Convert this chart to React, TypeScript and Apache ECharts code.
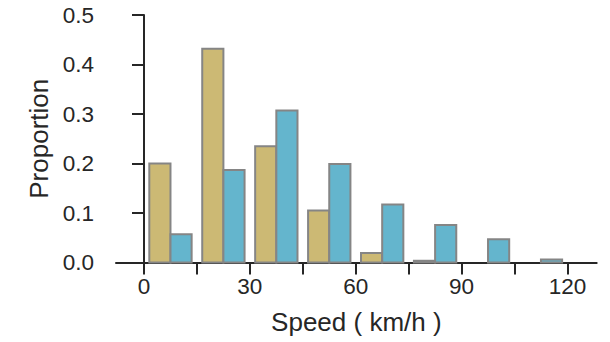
import React, { useEffect, useRef } from "react";
import * as echarts from "echarts";

const binEdges = [0, 15, 30, 45, 60, 75, 90, 105, 120];
const goldValues = [0.2, 0.432, 0.235, 0.105, 0.019, 0.0035, 0, 0];
const blueValues = [0.057, 0.187, 0.307, 0.199, 0.117, 0.076, 0.047, 0.006];
const xTickValues = [0, 15, 30, 45, 60, 75, 90, 105, 120];
const xLabelValues = [0, 30, 60, 90, 120];
const xAxisTitle = "Speed ( km/h )";
const yAxisTitle = "Proportion";

const SHRINK = 0.8;
const GOLD = "#CCB974";
const BLUE = "#64B5CD";
const EDGE = "#858585";
const INK = "#262626";
const FONT = "'Liberation Sans', Arial, Helvetica, sans-serif";

function buildBars(values: number[], slot: number) {
  const items: number[][] = [];
  for (let i = 0; i < values.length; i++) {
    if (values[i] <= 0) continue;
    const left = binEdges[i];
    const w = binEdges[i + 1] - left;
    const pad = (w * (1 - SHRINK)) / 2;
    const half = (w * SHRINK) / 2;
    const x0 = left + pad + slot * half;
    items.push([x0, x0 + half, values[i]]);
  }
  return items;
}

function makeSeries(values: number[], slot: number, color: string) {
  return {
    type: "custom",
    data: buildBars(values, slot),
    encode: { x: [0, 1], y: 2 },
    renderItem: (_p: any, api: any) => {
      const a = api.coord([api.value(0), api.value(2)]);
      const b = api.coord([api.value(1), 0]);
      return {
        type: "rect",
        shape: { x: a[0], y: a[1], width: b[0] - a[0], height: b[1] - a[1] },
        style: { fill: color, stroke: EDGE, lineWidth: 2 },
      };
    },
  };
}

export default function App() {
  const ref = useRef<HTMLDivElement>(null);
  useEffect(() => {
    if (!ref.current) return;
    const chart = echarts.init(ref.current, null, { renderer: "svg" });
    chart.setOption({
      animation: false,
      backgroundColor: "#ffffff",
      textStyle: { fontFamily: FONT },
      grid: { left: 116, right: 13.3, top: 15, bottom: 79.5, containLabel: false },
      xAxis: {
        type: "value",
        min: -7.94,
        max: 128.3,
        name: xAxisTitle,
        nameLocation: "middle",
        nameGap: 46,
        nameTextStyle: { fontSize: 26, color: INK, fontFamily: FONT },
        axisLine: { show: true, lineStyle: { color: INK, width: 2 } },
        axisTick: {
          show: true,
          length: 12,
          customValues: xTickValues,
          lineStyle: { color: INK, width: 2 },
        },
        axisLabel: {
          customValues: xLabelValues,
          fontSize: 22.5,
          color: INK,
          margin: 12,
          fontFamily: FONT,
        },
        splitLine: { show: false },
      },
      yAxis: {
        type: "value",
        min: 0,
        max: 0.5,
        interval: 0.1,
        name: yAxisTitle,
        nameLocation: "middle",
        nameGap: 63,
        nameRotate: 90,
        nameTextStyle: { fontSize: 26, color: INK, fontFamily: FONT },
        axisLine: { show: true, lineStyle: { color: INK, width: 2 } },
        axisTick: { show: true, length: 12, lineStyle: { color: INK, width: 2 } },
        axisLabel: {
          fontSize: 22.5,
          color: INK,
          margin: 22,
          fontFamily: FONT,
          formatter: (v: number) => v.toFixed(1),
        },
        splitLine: { show: false },
      },
      series: [makeSeries(goldValues, 0, GOLD), makeSeries(blueValues, 1, BLUE)],
    });
    return () => chart.dispose();
  }, []);
  return (
    <div
      ref={ref}
      style={{ position: "fixed", left: 0, top: 0, width: 610, height: 342, background: "#fff" }}
    />
  );
}
